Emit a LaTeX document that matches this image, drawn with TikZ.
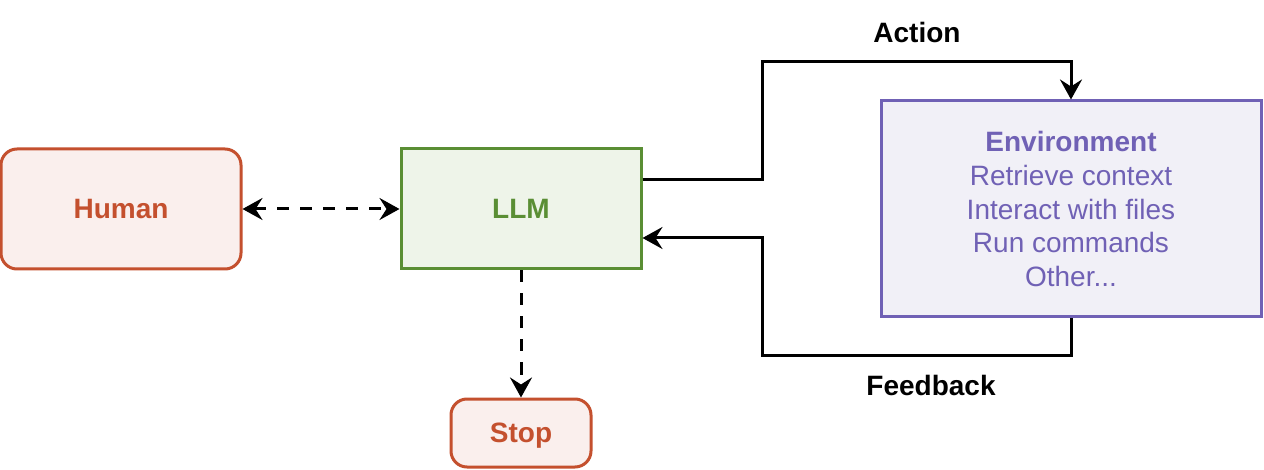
\documentclass[tikz,border=0pt]{standalone}
\usepackage{fontspec}
\setmainfont{Liberation Sans}
\usetikzlibrary{arrows.meta,positioning}
\definecolor{ink}{RGB}{0,0,0}
\definecolor{hum}{RGB}{196,80,46}
\definecolor{humbg}{RGB}{250,239,237}
\definecolor{llm}{RGB}{90,142,52}
\definecolor{llmbg}{RGB}{238,244,233}
\definecolor{env}{RGB}{112,97,181}
\definecolor{envbg}{RGB}{241,240,247}
\tikzset{
  box/.style={line width=1.5pt,inner sep=4pt,align=center,
    font=\fontsize{14}{16.8}\selectfont},
  agent/.style={box,rounded corners=8pt,draw=hum,fill=humbg,text=hum,
    font=\fontsize{14}{16.8}\selectfont\bfseries},
  tip/.tip={Stealth[length=10pt,width=11pt,inset=3.5pt]},
  arr/.style={-tip,line width=1.5pt,ink},
  dashed arr/.style={arr,dash pattern=on 6pt off 5.5pt},
  lbl/.style={font=\fontsize{14}{16.8}\selectfont\bfseries,text=ink},
}
\begin{document}
\begin{tikzpicture}[x=0.5pt,y=-0.5pt]
  \useasboundingbox (0,0) rectangle (1264,470);

  \node[agent,minimum width=120pt,minimum height=60pt] (human) at (121,209) {Human};
  \node[box,draw=llm,fill=llmbg,text=llm,font=\fontsize{14}{16.8}\selectfont\bfseries,
    minimum width=120pt,minimum height=60pt] (llm) at (521,209) {LLM};
  \node[agent,minimum width=70pt,minimum height=34pt,text depth=0pt] (stop) at (521,433) {Stop};
  \node[box,draw=env,fill=envbg,text=env,minimum width=190pt,minimum height=108pt]
    (env) at (1071,209)
    {\textbf{Environment}\\Retrieve context\\Interact with files\\Run commands\\Other...};

  \node[lbl] (action) at (917,32) {Action};
  \node[lbl] (feedback) at (931,385) {Feedback};

  \draw[dashed arr,tip-tip] (human) -- (llm);
  \draw[dashed arr] (llm) -- (stop);
  \draw[arr] ([yshift=14.5pt]llm.east) -| (762,62) -| (env.north);
  \draw[arr] (env.south) |- (762,356) |- ([yshift=-14.5pt]llm.east);
\end{tikzpicture}
\end{document}
